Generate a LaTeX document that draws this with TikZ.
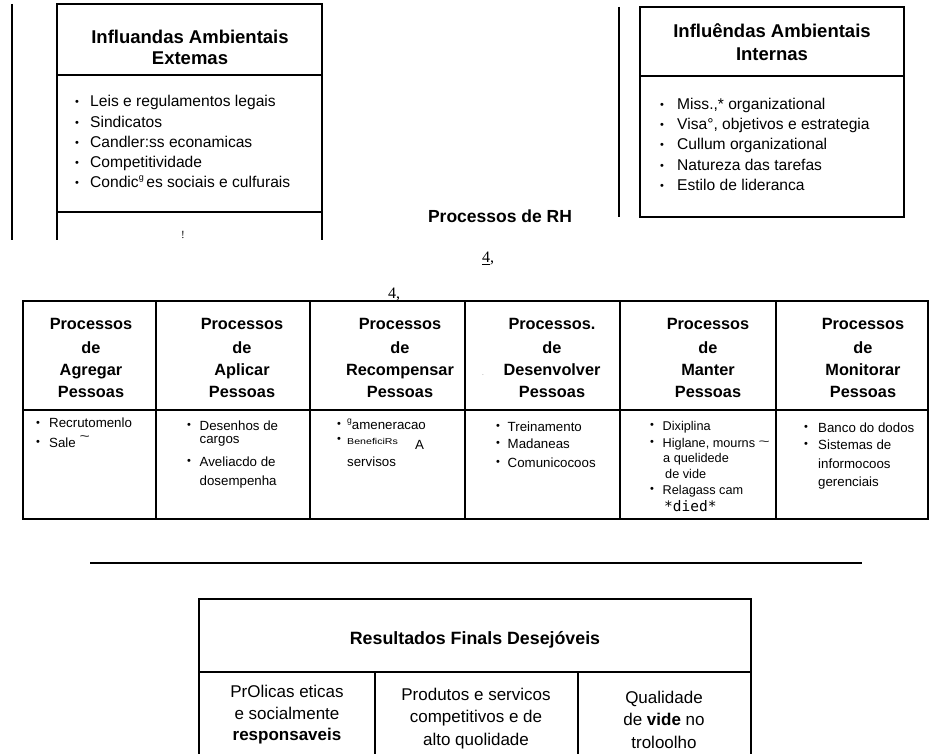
\documentclass[tikz,border=0pt]{standalone}
\usepackage{fontspec}
\setmainfont{Liberation Sans}
\newfontfamily\numserif{Liberation Serif}
\newfontfamily\dmono{DejaVu Sans Mono}
\newcommand\fz[1]{\fontsize{#1}{#1}\selectfont}
% bullet followed by a gap of fixed width
\newcommand\bul[1]{\makebox[#1][l]{\fz{11}\raisebox{.2ex}{•}}}
\newcommand\wave{\raisebox{.5em}{\fz{11}\scalebox{1.6}[1.1]{\textasciitilde}}}
\begin{document}
\begin{tikzpicture}[x=1pt,y=-1pt,
  frame/.style={line width=1.8pt},
  lbl/.style={inner sep=0pt,anchor=base},
  lft/.style={inner sep=0pt,anchor=base west},
  tophead/.style={lbl,font=\fz{18.5}\bfseries},
  topitem/.style={lft,font=\fz{15.6}},
  phead/.style={lbl,font=\fz{16.3}\bfseries},
  pitem/.style={lft,font=\fz{13.3}},
  pitemsm/.style={lft,font=\fz{12.7}},
  rtitle/.style={lbl,font=\fz{17.8}\bfseries},
  rcell/.style={lbl,font=\fz{17}}]
\useasboundingbox (0,0) rectangle (930,754);

% ---- external influences
\draw[frame] (12,4) -- (12,240);
\draw[frame] (57,240) -- (57,4) -- (322,4) -- (322,240);
\draw[frame] (57,75) -- (322,75);
\draw[frame] (57,212) -- (322,212);
\node[tophead] (ext1) at (190,44) {Influandas Ambientais};
\node[tophead] (ext2) at (190,65) {Extemas};
\node[topitem] (e1) at (75,107) {\bul{15pt}Leis e regulamentos legais};
\node[topitem] (e2) at (75,127.5) {\bul{15pt}Sindicatos};
\node[topitem] (e3) at (75,148) {\bul{15pt}Candler:ss econamicas};
\node[topitem] (e4) at (75,168) {\bul{15pt}Competitividade};
\node[topitem] (e5) at (75,188) {\bul{15pt}Condic\raisebox{.45em}{\fz{9}g}\,es sociais e culfurais};
\node[lbl,font=\numserif\fz{11}] (mark) at (183,239) {!};

% ---- internal influences
\draw[frame] (619,7) -- (619,217);
\draw[frame] (640,7) rectangle (904,217);
\draw[line width=2.8pt] (640,217) -- (904,217);
\draw[frame] (640,76) -- (904,76);
\node[tophead] (int1) at (772,38) {Influêndas Ambientais};
\node[tophead] (int2) at (772,61) {Internas};
\node[topitem] (i1) at (660,110) {\bul{17pt}Miss.,* organizational};
\node[topitem] (i2) at (660,130) {\bul{17pt}Visa°, objetivos e estrategia};
\node[topitem] (i3) at (660,150) {\bul{17pt}Cullum organizational};
\node[topitem] (i4) at (660,170.5) {\bul{17pt}Natureza das tarefas};
\node[topitem] (i5) at (660,191) {\bul{17pt}Estilo de lideranca};

% ---- title and stray marks
\node[lbl,font=\fz{17.5}\bfseries] (rh) at (500,223) {Processos de RH};
\node[lbl,font=\numserif\fz{16}] (four1) at (488,263) {\underline{4},};
\node[lbl,font=\numserif\fz{16}] (four2) at (394,299) {4,};

% ---- HR process table
\draw[frame] (23,301) rectangle (928,519);
\draw[frame] (23,410) -- (928,410);
\foreach \xx in {156,310,465,620,776} \draw[frame] (\xx,301) -- (\xx,519);
\foreach \c/\xx/\p/\w in {1/91/Processos/Agregar, 2/242/Processos/Aplicar,
    3/400/Processos/Recompensar, 4/552/Processos./Desenvolver,
    5/708/Processos/Manter, 6/863/Processos/Monitorar} {
  \node[phead] (ph\c a) at (\xx,330) {\p};
  \node[phead] (ph\c b) at (\xx,353) {de};
  \node[phead] (ph\c c) at (\xx,375) {\w};
  \node[phead] (ph\c d) at (\xx,397) {Pessoas};
}
\node[lbl,font=\fz{8},text=black!35] (speck) at (483,375) {.};

% column 1
\node[pitem] (a1) at (36,428) {\bul{13pt}Recrutomenlo};
\node[pitem] (a2) at (36,447) {\bul{13pt}Sale \wave};
% column 2
\node[pitem] (b1) at (187,430) {\bul{12.5pt}Desenhos de};
\node[pitem] (b2) at (199.5,443) {cargos};
\node[pitem] (b3) at (187,466) {\bul{12.5pt}Aveliacdo de};
\node[pitem] (b4) at (199.5,485) {dosempenha};
% column 3
\node[pitem] (c1) at (337,429) {\bul{10pt}\raisebox{.45em}{\fz{8.5}g}ameneracao};
\node[pitem] (c2) at (337,444) {\bul{10pt}\fz{8.5}\scalebox{1.25}[1]{BeneficiRs}};
\node[pitem] (c2a) at (415,449) {A};
\node[pitem] (c3) at (347,466) {servisos};
% column 4
\node[pitem] (d1) at (496,431) {\bul{11.5pt}Treinamento};
\node[pitem] (d2) at (496,448) {\bul{11.5pt}Madaneas};
\node[pitem] (d3) at (496,467) {\bul{11.5pt}Comunicocoos};
% column 5
\node[pitemsm] (m1) at (650,430) {\bul{12.5pt}Dixiplina};
\node[pitemsm] (m2) at (650,447) {\bul{12.5pt}Higlane, mourns \raisebox{.15em}{\scalebox{1.5}[.9]{\textasciitilde}}};
\node[pitemsm] (m3) at (663,462) {a quelidede};
\node[pitemsm] (m4) at (665,478) {de vide};
\node[pitemsm] (m5) at (650,494) {\bul{12.5pt}Relagass cam};
\node[lft,font=\dmono\fz{14.5}] (m6) at (664,511) {*died*};
% column 6
\node[pitem] (n1) at (804,432) {\bul{14pt}Banco do dodos};
\node[pitem] (n2) at (804,449) {\bul{14pt}Sistemas de};
\node[pitem] (n3) at (818,468) {informocoos};
\node[pitem] (n4) at (818,486) {gerenciais};

% ---- separator
\draw[line width=1.9pt] (90,563) -- (862,563);

% ---- desired final results
\draw[frame] (199,754) -- (199,599) -- (751,599) -- (751,754);
\draw[frame] (199,672) -- (751,672);
\draw[frame] (375,672) -- (375,754);
\draw[frame] (578,672) -- (578,754);
\node[rtitle] (res) at (475,644) {Resultados Finals Desejóveis};
\node[rcell] (r1a) at (287,697) {PrOlicas eticas};
\node[rcell] (r1b) at (287,719) {e socialmente};
\node[rcell] (r1c) at (287,740) {\bfseries responsaveis};
\node[rcell] (r2a) at (476,700) {Produtos e servicos};
\node[rcell] (r2b) at (476,722) {competitivos e de};
\node[rcell] (r2c) at (476,745) {alto quolidade};
\node[rcell] (r3a) at (664,703) {Qualidade};
\node[rcell] (r3b) at (664,725) {de \textbf{vide} no};
\node[rcell] (r3c) at (664,748) {troloolho};
\end{tikzpicture}
\end{document}
